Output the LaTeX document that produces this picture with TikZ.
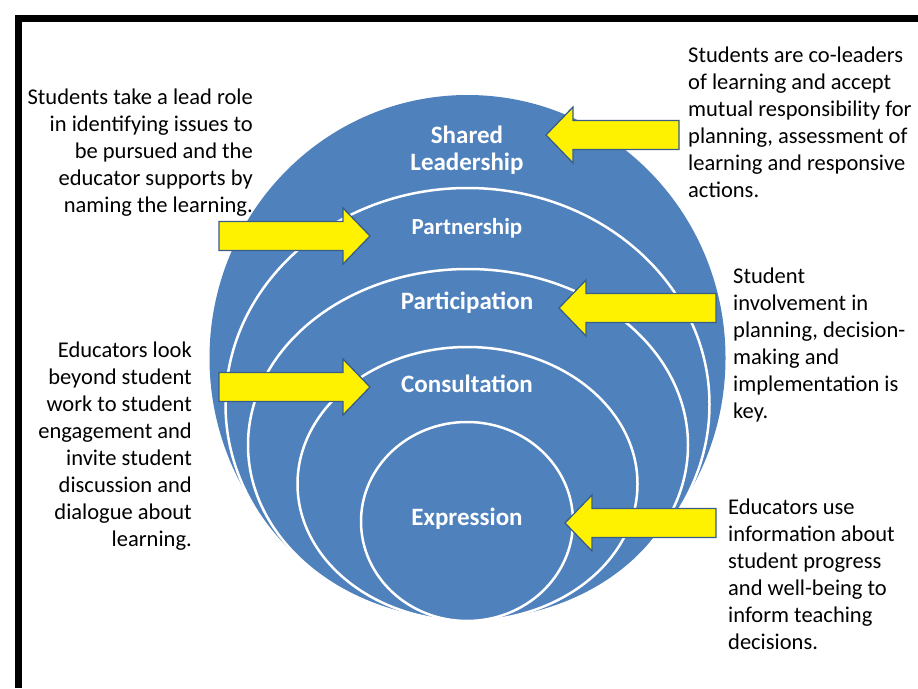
\documentclass[tikz,border=0pt]{standalone}
\usepackage{fontspec}
\setmainfont{Carlito}
\definecolor{cblue}{RGB}{79,129,189}
\definecolor{aedge}{RGB}{56,93,138}
\newcommand{\yarrowL}[3]{%
  \draw[yarrow] (#1,#2) -- ({#1+27},{#2-28}) -- ({#1+27},{#2-14.5}) -- (#3,{#2-14.5}) -- (#3,{#2+14.5}) -- ({#1+27},{#2+14.5}) -- ({#1+27},{#2+28}) -- cycle;}
\newcommand{\yarrowR}[3]{%
  \draw[yarrow] (#1,#2) -- ({#1-27},{#2-28}) -- ({#1-27},{#2-14.5}) -- (#3,{#2-14.5}) -- (#3,{#2+14.5}) -- ({#1-27},{#2+14.5}) -- ({#1-27},{#2+28}) -- cycle;}
\newcommand{\blockR}[1]{\begin{tabular}[t]{@{}r@{}}#1\end{tabular}}
\newcommand{\blockL}[1]{\begin{tabular}[t]{@{}l@{}}#1\end{tabular}}
\newcommand{\blockC}[1]{\begin{tabular}[t]{@{}c@{}}#1\end{tabular}}
\begin{document}
\begin{tikzpicture}[x=1pt,y=-1pt,
  ring/.style={fill=cblue,draw=white,line width=2.5pt},
  lab/.style={text=white,font=\bfseries\fontsize{25}{27}\selectfont,inner sep=0pt,anchor=base},
  desc/.style={font=\fontsize{22.5}{27}\selectfont,inner sep=0pt},
  yarrow/.style={fill=yellow,draw=aedge,line width=1.3pt,line join=miter}]
\useasboundingbox (0,0) rectangle (918,688);
\fill[white] (0,0) rectangle (918,688);
\fill[black] (15,15) rectangle (918,22);
\fill[black] (15,15) rectangle (22,688);
% nested rings
\fill[cblue] (467.5,358) ellipse [x radius=258pt, y radius=263pt];
\draw[ring] (467.5,404.5) ellipse [x radius=242pt, y radius=216.5pt];
\draw[ring] (468,445) ellipse [x radius=220pt, y radius=176pt];
\draw[ring] (467.5,484) ellipse [x radius=170pt, y radius=137pt];
\draw[ring] (467,521.5) ellipse [x radius=106pt, y radius=99.5pt];
% ring labels
\node[lab] (shared) at (467,143) {\blockC{Shared\\Leadership}};
\node[lab,font=\bfseries\fontsize{23}{27}\selectfont] (partner) at (467,234) {Partnership};
\node[lab] (particip) at (467,309) {Participation};
\node[lab] (consult) at (467,392) {Consultation};
\node[lab] (express) at (467,525) {Expression};
% arrows
\yarrowL{546}{135}{679}
\yarrowR{370}{236}{219}
\yarrowL{559}{308}{716}
\yarrowR{370}{387}{219}
\yarrowL{565}{523}{716}
% descriptions
\node[desc,anchor=base east] (tlead) at (253,104) {\blockR{Students take a lead role\\in identifying issues to\\be pursued and the\\educator supports by\\naming the learning.}};
\node[desc,anchor=base west] (tco) at (688,62) {\blockL{Students are co-leaders\\of learning and accept\\mutual responsibility for\\planning, assessment of\\learning and responsive\\actions.}};
\node[desc,anchor=base west] (tinv) at (733,283) {\blockL{Student\\involvement in\\planning, decision-\\making and\\implementation is\\key.}};
\node[desc,anchor=base east] (tlook) at (192,357) {\blockR{Educators look\\beyond student\\work to student\\engagement and\\invite student\\discussion and\\dialogue about\\learning.}};
\node[desc,anchor=base west] (tuse) at (728,514) {\blockL{Educators use\\information about\\student progress\\and well-being to\\inform teaching\\decisions.}};
\end{tikzpicture}
\end{document}
